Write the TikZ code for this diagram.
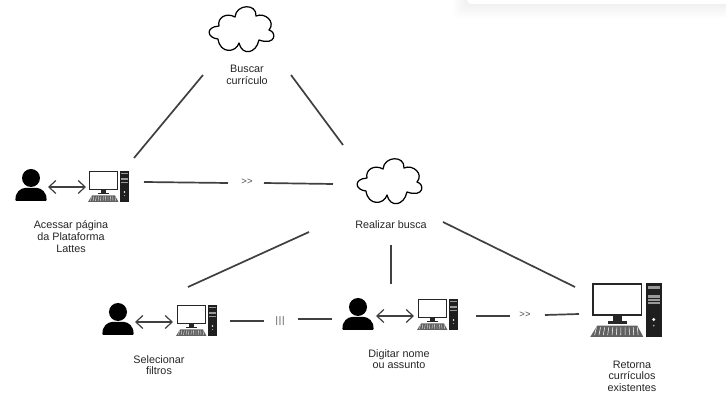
\documentclass[tikz,border=0pt]{standalone}
\usepackage{fontspec}
\setmainfont{Liberation Sans}
\usetikzlibrary{arrows.meta}
\tikzset{
  x=1pt,y=-1pt,
  link/.style={draw=black!75,line width=1.7pt},
  caption/.style={align=center,text=black!85,font=\fontsize{10.8}{11.6}\selectfont,inner sep=0pt},
  mark label/.style={text=black!70,font=\fontsize{9.5}{10}\selectfont,inner sep=0pt},
  exchange/.style={draw=black!75,line width=1.2pt,{Straight Barb[length=7pt,width=13pt,line width=1.2pt]}-{Straight Barb[length=7pt,width=13pt,line width=1.2pt]}},
  pics/cloudicon/.style={code={
    \draw[black,line width=1.25pt,fill=white,line join=round]
      (10,19) .. controls (8,11) and (17,5) .. (26,10)
      .. controls (27,-3) and (48,-4) .. (47,9)
      .. controls (56,5) and (67,15) .. (60,23)
      .. controls (68,25) and (67,39) .. (50,33)
      .. controls (47,47) and (33,49) .. (30,36)
      .. controls (27,46) and (11,47) .. (9,32)
      .. controls (-2,31) and (-4,20) .. (10,19) -- cycle;
  }},
  pics/personicon/.style={code={
    \fill[black] (0,0) circle[radius=9];
    \fill[black,rounded corners=1pt] (-15.5,23)
      .. controls (-16,14) and (-10,10) .. (-5,10)
      -- (5,10) .. controls (10,10) and (16,14) .. (15.5,23) -- cycle;
  }},
  pics/pcicon/.style={code={
    % monitor
    \draw[black!85,line width=#1,fill=white] (0.5,0.5) rectangle (28.5,18.5);
    % stand
    \fill[black!85] (12,19) rectangle (17,22);
    \fill[black!85] (9,22) rectangle (20,23.5);
    % keyboard
    \fill[black!62] (3,24.5) -- (26,24.5) -- (29.5,31) -- (-1,31) -- cycle;
    \foreach \k in {1,...,11}
      \draw[white,line width=0.3*#1] (\k*2.35+0.2,25.5) -- (\k*2.5-1,30);
    % tower
    \fill[black!88] (31,0) rectangle (40,31);
    \fill[black!40] (32,2) rectangle (39,3.5);
    \fill[black!40] (32,7) rectangle (39,12);
    \fill[black!88] (32,8.6) rectangle (39,9.2);
    \fill[black!88] (32,10.2) rectangle (39,10.8);
    \fill[white] (35.5,21) circle[radius=0.9];
    \fill[black!40] (35.5,24.5) circle[radius=0.6];
  }}
}
\begin{document}
\begin{tikzpicture}
\useasboundingbox (0,0) rectangle (726,411);
\fill[white] (0,0) rectangle (726,411);
% faint panel at the top edge
\begin{scope}
  \clip (0,0) rectangle (726,411);
  \foreach \s in {14,12,...,2}
    \fill[black,opacity=0.006,rounded corners=6pt] (467-\s,-30) rectangle (760,4+\s);
  \fill[white,rounded corners=4pt] (467,-30) rectangle (760,4);
\end{scope}

% icons
\pic at (209,7) {cloudicon};
\pic at (357,159) {cloudicon};
\pic at (31,178) {personicon};
\pic at (118,312) {personicon};
\pic at (358,307) {personicon};
\pic at (89,171) {pcicon=1.1pt};
\pic at (177,305) {pcicon=1.1pt};
\pic at (418,299) {pcicon=1.1pt};
\pic[scale=1.74] at (592,283) {pcicon=1.8pt};

% captions
\node[caption] (buscar) at (247,75) {Buscar\\currículo};
\node[caption] (realizar) at (391,225) {Realizar busca};
\node[caption] (acessar) at (71,236.5) {Acessar página\\da Plataforma\\Lattes};
\node[caption] (selecionar) at (159,365) {Selecionar\\filtros};
\node[caption] (digitar) at (399,359) {Digitar nome\\ou assunto};
\node[caption] (retorna) at (632,376) {Retorna\\currículos\\existentes};

% connector labels
\node[mark label] (m1) at (247,182) {>{}>};
\node[mark label] (m2) at (280,321) {|\kern0.8pt|\kern0.8pt|};
\node[mark label] (m3) at (525,315) {>{}>};

% exchange arrows
\coordinate (e1a) at (48,187); \coordinate (e1b) at (86,187);
\coordinate (e2a) at (135,322); \coordinate (e2b) at (173,322);
\coordinate (e3a) at (376,316); \coordinate (e3b) at (414,316);
\draw[exchange] (e1a) -- (e1b);
\draw[exchange] (e2a) -- (e2b);
\draw[exchange] (e3a) -- (e3b);

% connectors
\coordinate (l1a) at (134,158); \coordinate (l1b) at (203,75);
\coordinate (l2a) at (291,75);  \coordinate (l2b) at (343,145);
\coordinate (l3a) at (144,182); \coordinate (l3b) at (228,183);
\coordinate (l4a) at (264,183); \coordinate (l4b) at (333,184);
\coordinate (l5a) at (188,287); \coordinate (l5b) at (309,232);
\coordinate (l6a) at (391,245); \coordinate (l6b) at (391,284);
\coordinate (l7a) at (443,222); \coordinate (l7b) at (575,287);
\coordinate (l8a) at (230,321); \coordinate (l8b) at (264,321);
\coordinate (l9a) at (298,319); \coordinate (l9b) at (332,319);
\coordinate (l10a) at (476,316); \coordinate (l10b) at (510,316);
\coordinate (l11a) at (545,315); \coordinate (l11b) at (579,314);
\foreach \n in {1,...,11}
  \draw[link] (l\n a) -- (l\n b);
\end{tikzpicture}
\end{document}
